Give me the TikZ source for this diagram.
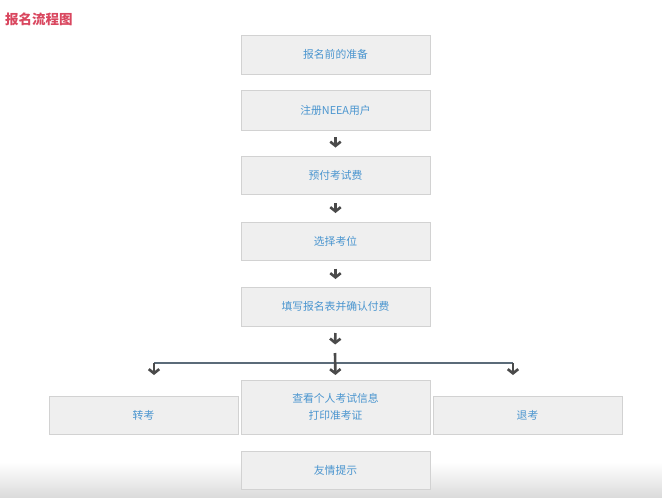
\documentclass[tikz,border=0pt]{standalone}
\usepackage{fontspec}
\setmainfont{Noto Sans CJK SC}
\usetikzlibrary{arrows.meta}
\definecolor{boxfill}{HTML}{EFEFEF}
\definecolor{boxline}{HTML}{D2D2D2}
\definecolor{txtblue}{HTML}{4A95CF}
\definecolor{titlered}{HTML}{D9475F}
\definecolor{arrgray}{HTML}{4A4A4A}
\definecolor{branchcol}{HTML}{5B6B79}
\tikzset{
  x=1pt, y=-1pt,
  flowbox/.style={draw=boxline, line width=1pt, fill=boxfill, text=txtblue,
    font=\fontsize{10.8pt}{16.5pt}\selectfont, align=center, inner sep=0pt},
  arr/.style={draw=arrgray, line width=2.6pt,
    -{Straight Barb[length=4.2pt,width=10.5pt,line width=2.6pt]}},
  branch/.style={draw=branchcol, line width=2pt},
}
\begin{document}
\begin{tikzpicture}
\useasboundingbox (0,0) rectangle (662,501);
\shade[top color=white, bottom color=black!14] (0,462) rectangle (662,497);
\node[anchor=west, inner sep=0pt, text=titlered, font=\fontsize{13.5pt}{15pt}\selectfont\bfseries] (title) at (5,19) {报名流程图};
\node[flowbox, minimum width=189pt, minimum height=39pt] (b1) at (335.5,54.5) {报名前的准备};
\node[flowbox, minimum width=189pt, minimum height=40pt] (b2) at (335.5,110) {注册NEEA用户};
\node[flowbox, minimum width=189pt, minimum height=38pt] (b3) at (335.5,175) {预付考试费};
\node[flowbox, minimum width=189pt, minimum height=38pt] (b4) at (335.5,241) {选择考位};
\node[flowbox, minimum width=189pt, minimum height=39pt] (b5) at (335.5,306.5) {填写报名表并确认付费};
\node[flowbox, minimum width=189pt, minimum height=54pt] (b6) at (335.5,407) {查看个人考试信息\\打印准考证};
\node[flowbox, minimum width=189pt, minimum height=38pt] (zk) at (143.5,415) {转考};
\node[flowbox, minimum width=189pt, minimum height=38pt] (tk) at (527.5,415) {退考};
\node[flowbox, minimum width=189pt, minimum height=38pt] (yq) at (335.5,470) {友情提示};
\coordinate (j) at (335,353);
\coordinate (hl) at (154,363);
\coordinate (hr) at (513,363);
\draw[arr, shorten <=6.5pt, shorten >=8pt] (b2.south) -- (b3.north);
\draw[arr, shorten <=8.5pt, shorten >=8.5pt] (b3.south) -- (b4.north);
\draw[arr, shorten <=8pt, shorten >=7.5pt] (b4.south) -- (b5.north);
\draw[arr, shorten <=6.5pt, shorten >=8.5pt] (b5.south) -- (j);
\draw[branch] (hl) -- (hr);
\draw[arr, shorten >=4.5pt] (j) -- (b6.north);
\draw[arr, shorten >=20.5pt] (hl) -- (hl |- zk.north);
\draw[arr, shorten >=20.5pt] (hr) -- (hr |- tk.north);
\end{tikzpicture}
\end{document}
